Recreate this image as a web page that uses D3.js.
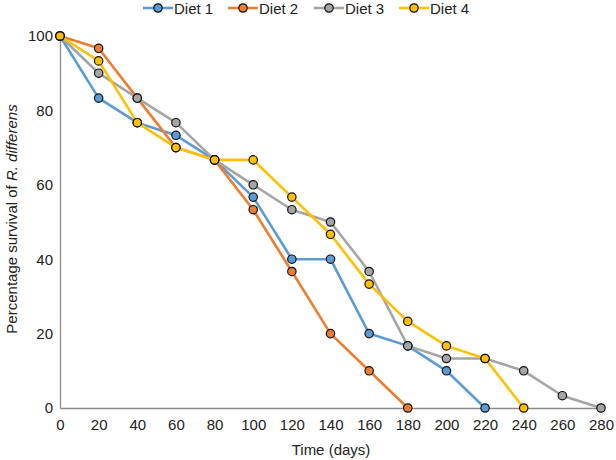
<!DOCTYPE html>
<html><head><meta charset="utf-8">
<script src="https://cdn.jsdelivr.net/npm/d3@7"></script>
<style>body{margin:0;background:#fff}svg{display:block;font-family:"Liberation Sans",Arial,sans-serif}</style>
</head><body><svg id="c" width="616" height="460"></svg>
<script>
const xTicks = [0,20,40,60,80,100,120,140,160,180,200,220,240,260,280];
const yTicks = [0,20,40,60,80,100];
const diet1Days = [0,20,40,60,80,100,120,140,160,180,200,220];
const diet1 = [100,83.3,76.7,73.3,66.7,56.7,40,40,20,16.7,10,0];
const diet2Days = [0,20,40,60,80,100,120,140,160,180];
const diet2 = [100,96.7,83.3,70,66.7,53.3,36.7,20,10,0];
const diet3Days = [0,20,40,60,80,100,120,140,160,180,200,220,240,260,280];
const diet3 = [100,90,83.3,76.7,66.7,60,53.3,50,36.7,16.7,13.3,13.3,10,3.3,0];
const diet4Days = [0,20,40,60,80,100,120,140,160,180,200,220,240];
const diet4 = [100,93.3,76.7,70,66.7,66.7,56.7,46.7,33.3,23.3,16.7,13.3,0];
const seriesNames = ["Diet 1","Diet 2","Diet 3","Diet 4"];
const colors = ["#5B9BD5","#ED7D31","#A5A5A5","#FFC000"];

const series = [
  {name:seriesNames[0], days:diet1Days, vals:diet1, color:colors[0]},
  {name:seriesNames[1], days:diet2Days, vals:diet2, color:colors[1]},
  {name:seriesNames[2], days:diet3Days, vals:diet3, color:colors[2]},
  {name:seriesNames[3], days:diet4Days, vals:diet4, color:colors[3]},
];

const FS = 15;
const svg = d3.select("#c");
const x = d3.scaleLinear().domain([0,280]).range([60,601]);
const y = d3.scaleLinear().domain([0,100]).range([408,36]);

const xAxis = svg.append("g").attr("transform","translate(0,408)")
  .call(d3.axisBottom(x).tickValues(xTicks).tickSize(0).tickPadding(11));
xAxis.select(".domain").attr("stroke","#8c8c8c").attr("stroke-width",1.3);
xAxis.selectAll("text").attr("font-size",FS).attr("fill","#222").attr("font-family","Liberation Sans, Arial, sans-serif");

const yAxis = svg.append("g").attr("transform","translate(60,0)")
  .call(d3.axisLeft(y).tickValues(yTicks).tickSize(0).tickPadding(7));
yAxis.select(".domain").attr("stroke","#8c8c8c").attr("stroke-width",1.3);
yAxis.selectAll("text").attr("font-size",FS).attr("fill","#222").attr("font-family","Liberation Sans, Arial, sans-serif");

const line = d3.line().x(d=>x(d[0])).y(d=>y(d[1]));
series.forEach(s=>{
  const pts = s.days.map((d,i)=>[d,s.vals[i]]);
  svg.append("path").datum(pts).attr("d",line).attr("fill","none")
    .attr("stroke",s.color).attr("stroke-width",2.6).attr("stroke-linejoin","round");
});
series.forEach(s=>{
  const pts = s.days.map((d,i)=>[d,s.vals[i]]);
  svg.selectAll(null).data(pts).enter().append("circle")
    .attr("cx",d=>x(d[0])).attr("cy",d=>y(d[1])).attr("r",4.2)
    .attr("fill",s.color).attr("stroke","#111").attr("stroke-width",1.2);
});

// legend
const legX = [143,228,314,399];
series.forEach((s,i)=>{
  const g = svg.append("g").attr("transform",`translate(${legX[i]},8)`);
  g.append("line").attr("x1",0).attr("x2",30).attr("y1",0).attr("y2",0)
    .attr("stroke",s.color).attr("stroke-width",2.6);
  g.append("circle").attr("cx",15).attr("cy",0).attr("r",4.2)
    .attr("fill",s.color).attr("stroke","#111").attr("stroke-width",1.2);
  g.append("text").attr("x",31).attr("y",5.5).attr("font-size",FS).attr("fill","#222").text(s.name);
});

// axis titles
svg.append("text").attr("x",331).attr("y",455).attr("text-anchor","middle")
  .attr("font-size",FS).attr("fill","#222").text("Time (days)");
const yt = svg.append("text").attr("transform","translate(17,219) rotate(-90)")
  .attr("text-anchor","middle").attr("font-size",FS).attr("fill","#222");
yt.append("tspan").text("Percentage survival of ");
yt.append("tspan").attr("font-style","italic").text("R. differens");
</script></body></html>
